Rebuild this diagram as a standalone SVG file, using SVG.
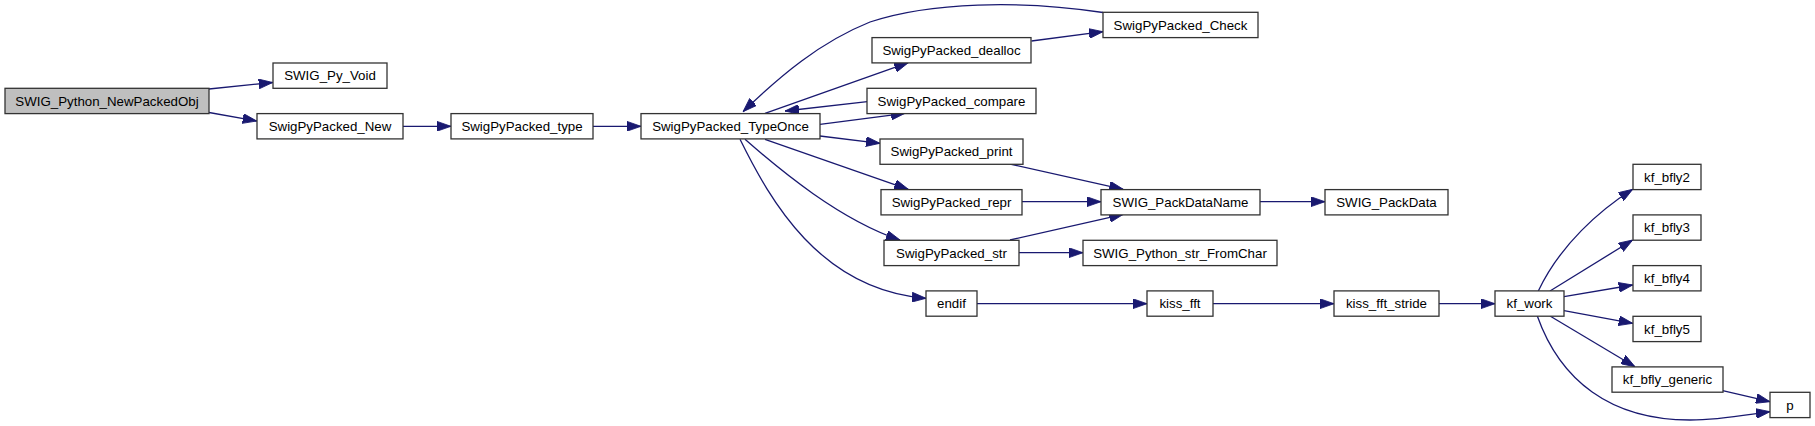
<svg xmlns="http://www.w3.org/2000/svg" width="1815" height="426" viewBox="0 0 1815 426">
<style>
.n rect{fill:#ffffff;stroke:#333333;stroke-width:1.3}
.n.root rect{fill:#bfbfbf}
.n text{font-family:"Liberation Sans",Arial,sans-serif;font-size:13.3px;fill:#000;text-anchor:middle}
.e path{fill:none;stroke:#191970;stroke-width:1.3;marker-end:url(#ah)}
</style>
<defs>
<marker id="ah" markerUnits="userSpaceOnUse" markerWidth="14" markerHeight="10" viewBox="0 0 13.3 9.3" refX="13.3" refY="4.65" orient="auto">
<path d="M0,0 L13.3,4.65 L0,9.3 z" fill="#191970" stroke="#191970" stroke-width="0.8"/>
</marker>
</defs>
<rect width="1815" height="426" fill="#ffffff"/>
<g id="edges" class="e">
<path d="M209,89 L272.7,82.5"/>
<path d="M209,112.5 L256.7,121"/>
<path d="M403,126.3 L451,126.3"/>
<path d="M593,126.3 L641,126.3"/>
<path d="M1103,12.5 C1020,0 930,2 870,22 C820,42 780,76 743,111.7"/>
<path d="M1031.5,41 L1103,31.7"/>
<path d="M765,113.3 L908.3,62.7"/>
<path d="M867.3,101.7 L785,111"/>
<path d="M820,124.3 L905,113.3"/>
<path d="M820,136 L880,143.3"/>
<path d="M765,139.3 L908.3,189.3"/>
<path d="M745,139.3 C780,170 840,220 900,240"/>
<path d="M740,139.3 C770,200 820,290 926,298.3"/>
<path d="M1010,164 L1123.3,189.3"/>
<path d="M1022,201.7 L1101,201.7"/>
<path d="M1010,240 L1123.3,214.3"/>
<path d="M1019,252.7 L1083,252.7"/>
<path d="M1260,201.7 L1325,201.7"/>
<path d="M977,303.7 L1147,303.7"/>
<path d="M1213,303.7 L1334,303.7"/>
<path d="M1439,303.7 L1495,303.7"/>
<path d="M1538.3,291 C1560,245 1600,210 1632.7,189.3"/>
<path d="M1550,291 L1632.7,240"/>
<path d="M1564,296.7 L1632.7,285"/>
<path d="M1564,310.7 L1632.7,323.3"/>
<path d="M1550,316 L1635,366.7"/>
<path d="M1722.7,390.7 L1770,401.7"/>
<path d="M1537.3,316 C1560,380 1610,420 1690,420 C1720,420 1745,415 1770,411.7"/>
</g>
<g id="n0" class="n root"><rect x="5" y="88.3" width="204" height="25.3"/><text x="107" y="105.6">SWIG_Python_NewPackedObj</text></g>
<g id="n1" class="n"><rect x="273" y="63" width="114" height="25.3"/><text x="330" y="80.3">SWIG_Py_Void</text></g>
<g id="n2" class="n"><rect x="257" y="113.6" width="146" height="25.3"/><text x="330" y="130.9">SwigPyPacked_New</text></g>
<g id="n3" class="n"><rect x="451" y="113.6" width="142" height="25.3"/><text x="522" y="130.9">SwigPyPacked_type</text></g>
<g id="n4" class="n"><rect x="641" y="113.6" width="179" height="25.3"/><text x="730.5" y="130.9">SwigPyPacked_TypeOnce</text></g>
<g id="n5" class="n"><rect x="1103" y="12.3" width="155" height="25.3"/><text x="1180.5" y="29.6">SwigPyPacked_Check</text></g>
<g id="n6" class="n"><rect x="872" y="37.6" width="159" height="25.3"/><text x="951.5" y="54.9">SwigPyPacked_dealloc</text></g>
<g id="n7" class="n"><rect x="867" y="88.3" width="169" height="25.3"/><text x="951.5" y="105.6">SwigPyPacked_compare</text></g>
<g id="n8" class="n"><rect x="880" y="139" width="143" height="25.3"/><text x="951.5" y="156.3">SwigPyPacked_print</text></g>
<g id="n9" class="n"><rect x="881" y="189.6" width="141" height="25.3"/><text x="951.5" y="206.9">SwigPyPacked_repr</text></g>
<g id="n10" class="n"><rect x="884" y="240.3" width="135" height="25.3"/><text x="951.5" y="257.6">SwigPyPacked_str</text></g>
<g id="n11" class="n"><rect x="926" y="290.9" width="51" height="25.3"/><text x="951.5" y="308.2">endif</text></g>
<g id="n12" class="n"><rect x="1101" y="189.6" width="159" height="25.3"/><text x="1180.5" y="206.9">SWIG_PackDataName</text></g>
<g id="n13" class="n"><rect x="1325" y="189.6" width="123" height="25.3"/><text x="1386.5" y="206.9">SWIG_PackData</text></g>
<g id="n14" class="n"><rect x="1083" y="240.3" width="194" height="25.3"/><text x="1180" y="257.6">SWIG_Python_str_FromChar</text></g>
<g id="n15" class="n"><rect x="1147" y="290.9" width="66" height="25.3"/><text x="1180" y="308.2">kiss_fft</text></g>
<g id="n16" class="n"><rect x="1334" y="290.9" width="105" height="25.3"/><text x="1386.5" y="308.2">kiss_fft_stride</text></g>
<g id="n17" class="n"><rect x="1495" y="290.9" width="69" height="25.3"/><text x="1529.5" y="308.2">kf_work</text></g>
<g id="n18" class="n"><rect x="1633" y="164.3" width="68" height="25.3"/><text x="1667" y="181.6">kf_bfly2</text></g>
<g id="n19" class="n"><rect x="1633" y="214.9" width="68" height="25.3"/><text x="1667" y="232.2">kf_bfly3</text></g>
<g id="n20" class="n"><rect x="1633" y="265.6" width="68" height="25.3"/><text x="1667" y="282.9">kf_bfly4</text></g>
<g id="n21" class="n"><rect x="1633" y="316.3" width="68" height="25.3"/><text x="1667" y="333.6">kf_bfly5</text></g>
<g id="n22" class="n"><rect x="1612" y="366.9" width="111" height="25.3"/><text x="1667.5" y="384.2">kf_bfly_generic</text></g>
<g id="n23" class="n"><rect x="1770" y="392.3" width="40" height="25.3"/><text x="1790" y="409.6">p</text></g>
</svg>
